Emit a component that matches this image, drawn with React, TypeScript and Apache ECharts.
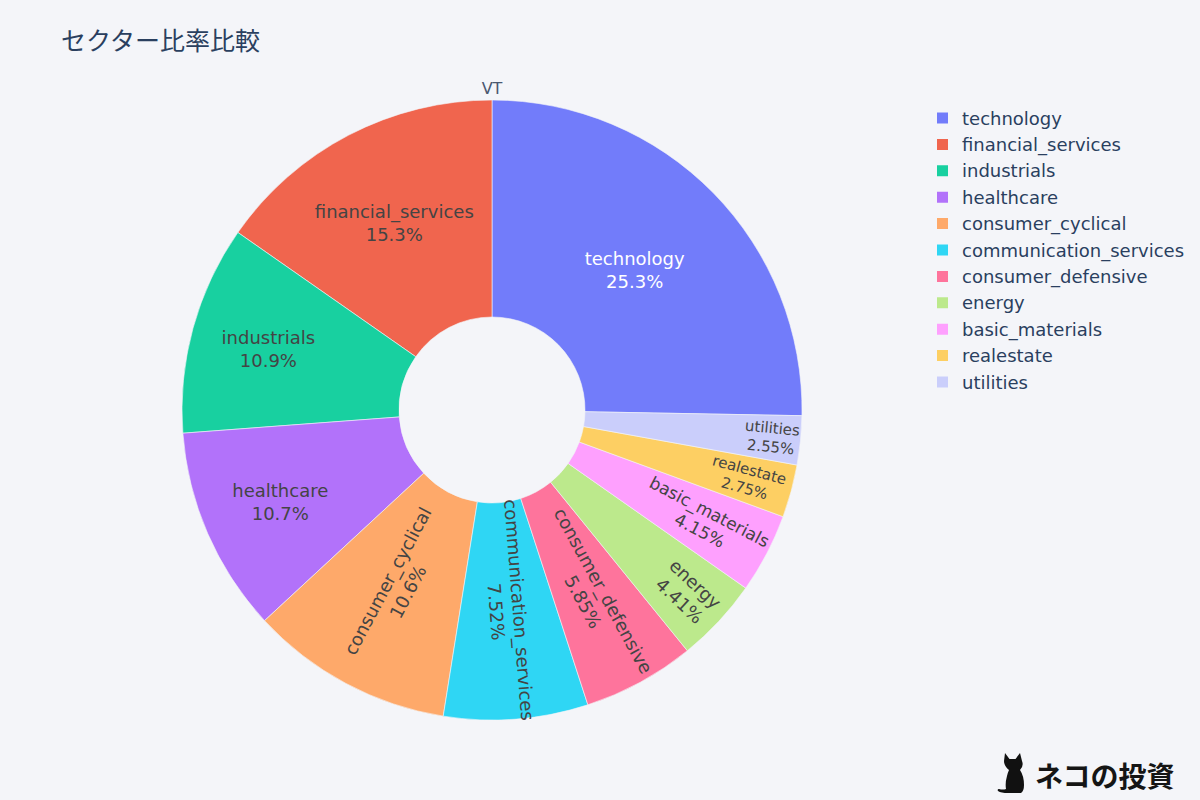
import React, { useEffect, useRef } from "react";
import * as echarts from "echarts";

// ---- data ----
const chartTitle = "セクター比率比較";
const pieTitle = "VT";
const brandText = "ネコの投資";
const categories = [
  "technology",
  "financial_services",
  "industrials",
  "healthcare",
  "consumer_cyclical",
  "communication_services",
  "consumer_defensive",
  "energy",
  "basic_materials",
  "realestate",
  "utilities",
];
const shares = [25.3, 15.3, 10.9, 10.7, 10.6, 7.52, 5.85, 4.41, 4.15, 2.75, 2.55];

// ---- styles ----
const sliceColors = [
  "#727cfa",
  "#f0654e",
  "#18d0a0",
  "#b272fa",
  "#fea96a",
  "#2fd6f4",
  "#fe749c",
  "#bce98c",
  "#fea0fe",
  "#fdcf63",
  "#cacefb",
];
const horizontalLabels = ["technology", "financial_services", "industrials", "healthcare"];
const whiteLabels = ["technology"];
const labelSize: Record<string, number> = { basic_materials: 17, realestate: 15, utilities: 15 };
// radial distance of each label centre, as a share of the outer radius
const labelRadius: Record<string, number> = {
  technology: 0.645,
  financial_services: 0.682,
  industrials: 0.748,
  healthcare: 0.745,
  consumer_cyclical: 0.645,
  consumer_defensive: 0.684,
  energy: 0.862,
  basic_materials: 0.774,
  realestate: 0.852,
  utilities: 0.906,
};
const BG = "#f4f5f9";
const FONT = "'DejaVu Sans', Verdana, sans-serif";
const CX = 492;
const CY = 410;
const R_OUT = 310;
const R_IN = 93;

const catPath =
  "M8 0 L12.5 6 L18.5 6 L23 0 L25 8 Q27 13 23 17 Q27 23 27 32 Q27 38 24 40 L11 40 Q4 40 1 38 Q0 36 2 36 Q6 37 9 36 Q8 30 10 23 Q11 19 12 17 Q7 13 7 8 Z";
echarts.graphic.registerShape("catlogo", echarts.graphic.extendPath(catPath, {}) as any);

export default function App() {
  const ref = useRef<HTMLDivElement>(null);
  useEffect(() => {
    if (!ref.current) return;
    const chart = echarts.init(ref.current, null, { renderer: "svg" });
    const total = shares.reduce((a, b) => a + b, 0);
    const startAngle = 90 - (shares[0] / total) * 360;
    // label anchor points derived from the slice angles
    let cum = 0;
    const labelPos = shares.map((v, i) => {
      const mid = ((startAngle + ((cum + v / 2) / total) * 360) * Math.PI) / 180;
      cum += v;
      const frac = labelRadius[categories[i]] ?? (R_IN + R_OUT) / 2 / R_OUT;
      const r = frac * R_OUT;
      return { x: CX + r * Math.cos(mid), y: CY - r * Math.sin(mid) };
    });
    const data = categories.map((name, i) => {
      const size = labelSize[name] || 18;
      return {
        name,
        value: shares[i],
        itemStyle: { color: sliceColors[i] },
        label: {
          rotate: horizontalLabels.includes(name) ? 0 : "radial",
          color: whiteLabels.includes(name) ? "#ffffff" : "#444444",
          fontSize: size,
          lineHeight: size < 18 ? size + 4 : 23,
        },
      };
    });
    const option: any = {
      animation: false,
      backgroundColor: BG,
      title: {
        text: chartTitle,
        left: 61,
        top: 26,
        padding: 0,
        textStyle: {
          fontFamily: "'Noto Sans CJK JP', sans-serif",
          fontSize: 25,
          fontWeight: "normal",
          color: "#2a3f5f",
        },
      },
      legend: {
        orient: "vertical",
        left: 935,
        top: 109,
        padding: 0,
        icon: "rect",
        itemWidth: 13,
        itemHeight: 13,
        itemGap: 8.4,
        data: categories,
        textStyle: {
          color: "#2a3f5f",
          fontFamily: FONT,
          fontSize: 18,
          padding: [0, 0, 0, 8],
        },
      },
      series: [
        {
          type: "pie",
          center: [CX, CY],
          radius: [R_IN, R_OUT],
          startAngle,
          clockwise: false,
          avoidLabelOverlap: false,
          itemStyle: { borderColor: BG, borderWidth: 0.6 },
          label: {
            show: true,
            position: "inside",
            fontFamily: FONT,
            formatter: (p: any) => `${p.name}\n${Number(p.value).toPrecision(3)}%`,
          },
          labelLine: { show: false },
          labelLayout: (p: any) => ({
            x: labelPos[p.dataIndex].x,
            y: labelPos[p.dataIndex].y,
            hideOverlap: false,
          }),
          emphasis: { disabled: true },
          data,
        },
      ],
      graphic: [
        {
          type: "text",
          x: 492,
          y: 88,
          style: {
            text: pieTitle,
            fontFamily: FONT,
            fontSize: 16,
            fill: "#4a5870",
            align: "center",
            verticalAlign: "middle",
          },
        },
        {
          type: "catlogo",
          x: 997,
          y: 753,
          style: { fill: "#111111" },
        },
        {
          type: "text",
          x: 1035,
          y: 775,
          style: {
            text: brandText,
            fontFamily: "'Noto Sans CJK JP', sans-serif",
            fontWeight: "bold",
            fontSize: 28,
            fill: "#151515",
            align: "left",
            verticalAlign: "middle",
          },
        },
      ],
    };
    chart.setOption(option);
    return () => chart.dispose();
  }, []);
  return (
    <div
      ref={ref}
      style={{ position: "absolute", left: 0, top: 0, width: 1200, height: 800 }}
    />
  );
}
